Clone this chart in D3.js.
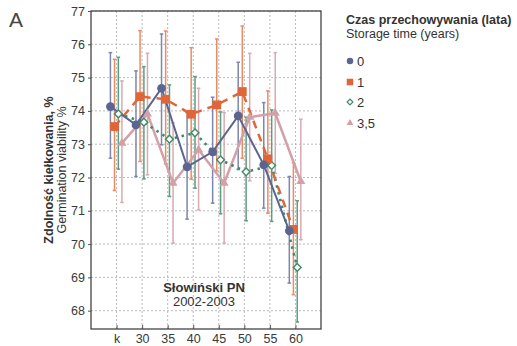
<!DOCTYPE html>
<html>
<head>
<meta charset="utf-8">
<script src="https://cdn.jsdelivr.net/npm/d3@7"></script>
<style>
body { margin: 0; background: #fff; }
svg text { font-family: "Liberation Sans", Arial, sans-serif; fill: #333; }
</style>
</head>
<body>
<svg id="chart" width="517" height="346"></svg>
<script>
// categories (seed age / treatment)
var categories = ["k", "30", "35", "40", "45", "50", "55", "60"];
var seriesNames = ["0", "1", "2", "3,5"];

// storage time 0 years
var mean0 = [74.13, 73.58, 74.68, 72.32, 72.77, 73.85, 72.38, 70.40];
var hi0   = [75.75, 75.20, 76.31, 73.95, 74.41, 75.46, 74.25, 72.03];
var lo0   = [72.58, 72.03, 72.98, 70.75, 71.23, 72.24, 71.08, 68.83];
// storage time 1 year
var mean1 = [73.53, 74.43, 74.35, 73.90, 74.18, 74.58, 72.56, 70.44];
var hi1   = [75.55, 76.41, 76.40, 75.90, 76.16, 76.55, 74.60, 72.45];
var lo1   = [71.61, 72.48, 72.41, 71.95, 72.20, 72.58, 70.93, 68.48];
// storage time 2 years
var mean2 = [73.91, 73.66, 73.15, 73.34, 72.53, 72.17, 72.36, 69.30];
var hi2   = [75.61, 75.33, 74.78, 75.03, 73.97, 73.81, 74.03, 71.30];
var lo2   = [72.25, 71.96, 71.43, 71.68, 70.91, 70.70, 70.68, 67.66];
// storage time 3,5 years
var mean3 = [73.03, 73.91, 71.83, 72.83, 71.83, 73.81, 73.93, 71.88];
var hi3   = [74.90, 75.73, 73.64, 74.68, 73.95, 75.73, 75.75, 73.75];
var lo3   = [71.25, 72.08, 70.03, 71.03, 70.03, 71.90, 72.13, 70.13];

var yTicks = [68, 69, 70, 71, 72, 73, 74, 75, 76, 77];

var svg = d3.select("#chart");
var margin = {left: 91, top: 11, right: 196, bottom: 17};
var W = 517, H = 346;

var x = d3.scalePoint().domain(categories).range([margin.left, W - margin.right]).padding(1);
var y = d3.scaleLinear().domain([67.45, 77]).range([H - margin.bottom, margin.top]);

var styles = [
	{mean: mean0, hi: hi0, lo: lo0, col: "#5b6592", bar: "#7d86ab", dodge: -0.24, sym: d3.symbolCircle, size: 60, rot: 0, fill: "#5b6592", dash: null, width: 2},
	{mean: mean1, hi: hi1, lo: lo1, col: "#e0663a", bar: "#e98c66", dodge: -0.08, sym: d3.symbolSquare, size: 78, rot: 0, fill: "#e0663a", dash: "8,6", width: 2.5},
	{mean: mean2, hi: hi2, lo: lo2, col: "#3f8a69", bar: "#5f9c80", dodge: 0.07, sym: d3.symbolSquare, size: 30, rot: 45, fill: "#fff", dash: "2.5,4.5", width: 2.6},
	{mean: mean3, hi: hi3, lo: lo3, col: "#d3a0a8", bar: "#d8aab1", dodge: 0.21, sym: d3.symbolTriangle, size: 36, rot: 0, fill: "#d3a0a8", dash: null, width: 2.5}
];

function px(i, s){ return x(categories[i]) + s.dodge * x.step(); }

// grid
svg.append("g").selectAll("line").data(yTicks).enter().append("line")
	.attr("x1", margin.left).attr("x2", W - margin.right)
	.attr("y1", function(d){ return y(d); }).attr("y2", function(d){ return y(d); })
	.attr("stroke", "#bbb").attr("stroke-dasharray", "2,2");
svg.append("g").selectAll("line").data(categories).enter().append("line")
	.attr("x1", function(d){ return x(d); }).attr("x2", function(d){ return x(d); })
	.attr("y1", margin.top).attr("y2", H - margin.bottom)
	.attr("stroke", "#bbb").attr("stroke-dasharray", "2,2");

// axes
var gx = svg.append("g").attr("transform", "translate(0," + (H - margin.bottom) + ")")
	.call(d3.axisBottom(x).tickSizeInner(-4).tickSizeOuter(0).tickPadding(5));
var gy = svg.append("g").attr("transform", "translate(" + margin.left + ",0)")
	.call(d3.axisLeft(y).tickValues(yTicks).tickSizeInner(3).tickSizeOuter(0).tickPadding(3));
[gx, gy].forEach(function(g){
	g.select(".domain").remove();
	g.selectAll(".tick line").attr("stroke", "#555");
	g.selectAll(".tick text").attr("font-size", 12.5).style("fill", "#3a3a3a")
		.attr("font-family", "'Liberation Sans', Arial, sans-serif");
});

// frame
svg.append("rect")
	.attr("x", margin.left).attr("y", margin.top)
	.attr("width", W - margin.right - margin.left).attr("height", H - margin.bottom - margin.top)
	.attr("fill", "none").attr("stroke", "#444").attr("stroke-width", 1.3);

// error bars
styles.forEach(function(s){
	var g = svg.append("g").attr("stroke", s.bar).attr("stroke-width", 1.5);
	categories.forEach(function(c, i){
		var cx = px(i, s);
		g.append("line").attr("x1", cx).attr("x2", cx).attr("y1", y(s.hi[i])).attr("y2", y(s.lo[i]));
		g.append("line").attr("x1", cx - 1.8).attr("x2", cx + 1.8).attr("y1", y(s.hi[i])).attr("y2", y(s.hi[i]));
		g.append("line").attr("x1", cx - 1.8).attr("x2", cx + 1.8).attr("y1", y(s.lo[i])).attr("y2", y(s.lo[i]));
	});
});

// lines
var drawOrder = [3, 2, 1, 0];
drawOrder.forEach(function(k){
	var s = styles[k];
	var line = d3.line().x(function(d, i){ return px(i, s); }).y(function(d){ return y(d); });
	svg.append("path").datum(s.mean)
		.attr("d", line)
		.attr("fill", "none")
		.attr("stroke", s.col)
		.attr("stroke-width", s.width)
		.attr("stroke-dasharray", s.dash);
});

// markers
drawOrder.forEach(function(k){
	var s = styles[k];
	svg.append("g").selectAll("path").data(s.mean).enter().append("path")
		.attr("d", d3.symbol().type(s.sym).size(s.size))
		.attr("transform", function(d, i){ return "translate(" + px(i, s) + "," + y(d) + ") rotate(" + s.rot + ")"; })
		.attr("fill", s.fill)
		.attr("stroke", s.col)
		.attr("stroke-width", k == 2 ? 1.4 : 0);
});

// panel letter
svg.append("text").attr("x", 9).attr("y", 27).attr("font-size", 21).style("fill", "#444").text("A");

// y label
var yl = svg.append("g").attr("transform", "translate(53," + ((margin.top + H - margin.bottom) / 2) + ") rotate(-90)");
yl.append("text").attr("text-anchor", "middle").attr("font-size", 12.5).attr("font-weight", "bold")
	.text("Zdolność kiełkowania, %");
yl.append("text").attr("text-anchor", "middle").attr("font-size", 12.5).attr("y", 13)
	.text("Germination viability %");

// annotation
svg.append("text").attr("x", 204).attr("y", 292).attr("text-anchor", "middle")
	.attr("font-size", 13).attr("font-weight", "bold").text("Słowiński PN");
svg.append("text").attr("x", 204).attr("y", 306).attr("text-anchor", "middle")
	.attr("font-size", 13).text("2002-2003");

// legend
var lg = svg.append("g").attr("transform", "translate(346,0)");
lg.append("text").attr("y", 24).attr("font-size", 12.5).attr("font-weight", "bold").text("Czas przechowywania (lata)");
lg.append("text").attr("y", 38).attr("font-size", 12.5).text("Storage time (years)");
var legY = [61, 82, 102, 123];
styles.forEach(function(s, k){
	lg.append("path")
		.attr("d", d3.symbol().type(s.sym).size(s.size * 0.55))
		.attr("transform", "translate(4," + legY[k] + ") rotate(" + s.rot + ")")
		.attr("fill", s.fill).attr("stroke", s.col).attr("stroke-width", k == 2 ? 1.2 : 0);
	lg.append("text").attr("x", 11).attr("y", legY[k] + 4.5).attr("font-size", 13).text(seriesNames[k]);
});
</script>
</body>
</html>
